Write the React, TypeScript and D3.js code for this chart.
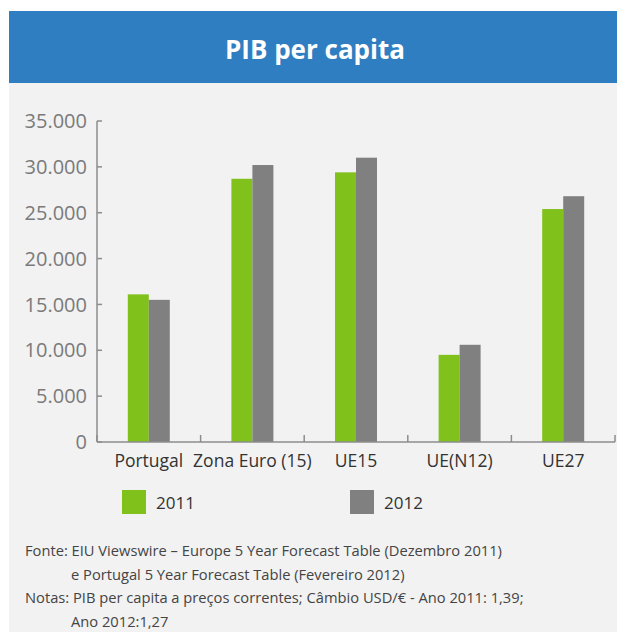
import React from "react";
import * as d3 from "d3";

const categories = ["Portugal", "Zona Euro (15)", "UE15", "UE(N12)", "UE27"];
const values2011 = [16100, 28700, 29400, 9500, 25400];
const values2012 = [15500, 30200, 31000, 10600, 26800];
const seriesNames = ["2011", "2012"];
const yTicks = [0, 5000, 10000, 15000, 20000, 25000, 30000, 35000];
const yTickLabels = ["0", "5.000", "10.000", "15.000", "20.000", "25.000", "30.000", "35.000"];
const title = "PIB per capita";
const notes = [
  "Fonte: EIU Viewswire – Europe 5 Year Forecast Table (Dezembro 2011)",
  "e Portugal 5 Year Forecast Table (Fevereiro 2012)",
  "Notas: PIB per capita a preços correntes; Câmbio USD/€ - Ano 2011: 1,39;",
  "Ano 2012:1,27",
];

const W = 617;
const H = 632;
const FONT = "'Open Sans', 'Noto Sans', sans-serif";
const GREEN = "#80c11c";
const GREY = "#808080";

export default function App() {
  const x = d3.scaleBand<string>().domain(categories).range([97, 615]).padding(0);
  const y = d3.scaleLinear().domain([0, 35000]).range([442, 121]);
  const barW = 21;
  const colors = [GREEN, GREY];
  const series = [values2011, values2012];
  const boundaries = categories.map((c) => x(c) as number).concat([615]);

  return (
    <div style={{ position: "absolute", left: 0, top: 0 }}>
      <svg width={W} height={H} style={{ display: "block" }}>
        <rect x={9} y={11} width={W - 9} height={72} fill="#2f7ec1" />
        <rect x={9} y={83} width={W - 9} height={H - 83} fill="#f2f2f2" />
        <text x={315} y={59} textAnchor="middle" fill="#fff" fontFamily={FONT} fontWeight="bold" fontSize={26}>
          {title}
        </text>

        {/* y axis */}
        <line x1={97} x2={97} y1={y(35000)} y2={y(0)} stroke="#8c8c8c" strokeWidth={1.5} />
        {yTicks.map((t, i) => (
          <g key={t}>
            <line x1={97} x2={102} y1={y(t)} y2={y(t)} stroke="#8c8c8c" strokeWidth={1.5} />
            <text x={87} y={y(t)} dy="0.36em" textAnchor="end" fill="#7a7a7a" fontFamily={FONT} fontSize={20}>
              {yTickLabels[i]}
            </text>
          </g>
        ))}

        {/* bars */}
        {categories.map((c, ci) => {
          const cx = (x(c) as number) + x.bandwidth() / 2;
          return series.map((s, si) => (
            <rect
              key={c + si}
              x={cx - barW + si * barW}
              y={y(s[ci])}
              width={barW}
              height={y(0) - y(s[ci])}
              fill={colors[si]}
            />
          ));
        })}

        {/* x axis */}
        <line x1={97} x2={615} y1={442} y2={442} stroke="#8c8c8c" strokeWidth={1.5} />
        {boundaries.map((b, i) => (
          <line key={i} x1={b} x2={b} y1={442} y2={435} stroke="#8c8c8c" strokeWidth={1.5} />
        ))}
        {categories.map((c) => (
          <text
            key={c}
            x={(x(c) as number) + x.bandwidth() / 2}
            y={467}
            textAnchor="middle"
            fill="#333"
            fontFamily={FONT}
            fontSize={17.5}
          >
            {c}
          </text>
        ))}

        {/* legend */}
        {seriesNames.map((n, i) => (
          <g key={n}>
            <rect x={122 + i * 228} y={490} width={24} height={24} fill={colors[i]} />
            <text x={156 + i * 228} y={509} fill="#333" fontFamily={FONT} fontSize={17}>
              {n}
            </text>
          </g>
        ))}

        {/* notes */}
        {notes.map((t, i) => {
          const indent = i === 1 || i === 3;
          return (
            <text key={i} x={indent ? 71 : 25} y={556 + i * 23.5} fill="#444" fontFamily={FONT} fontSize={14.7}>
              {t}
            </text>
          );
        })}
      </svg>
    </div>
  );
}
